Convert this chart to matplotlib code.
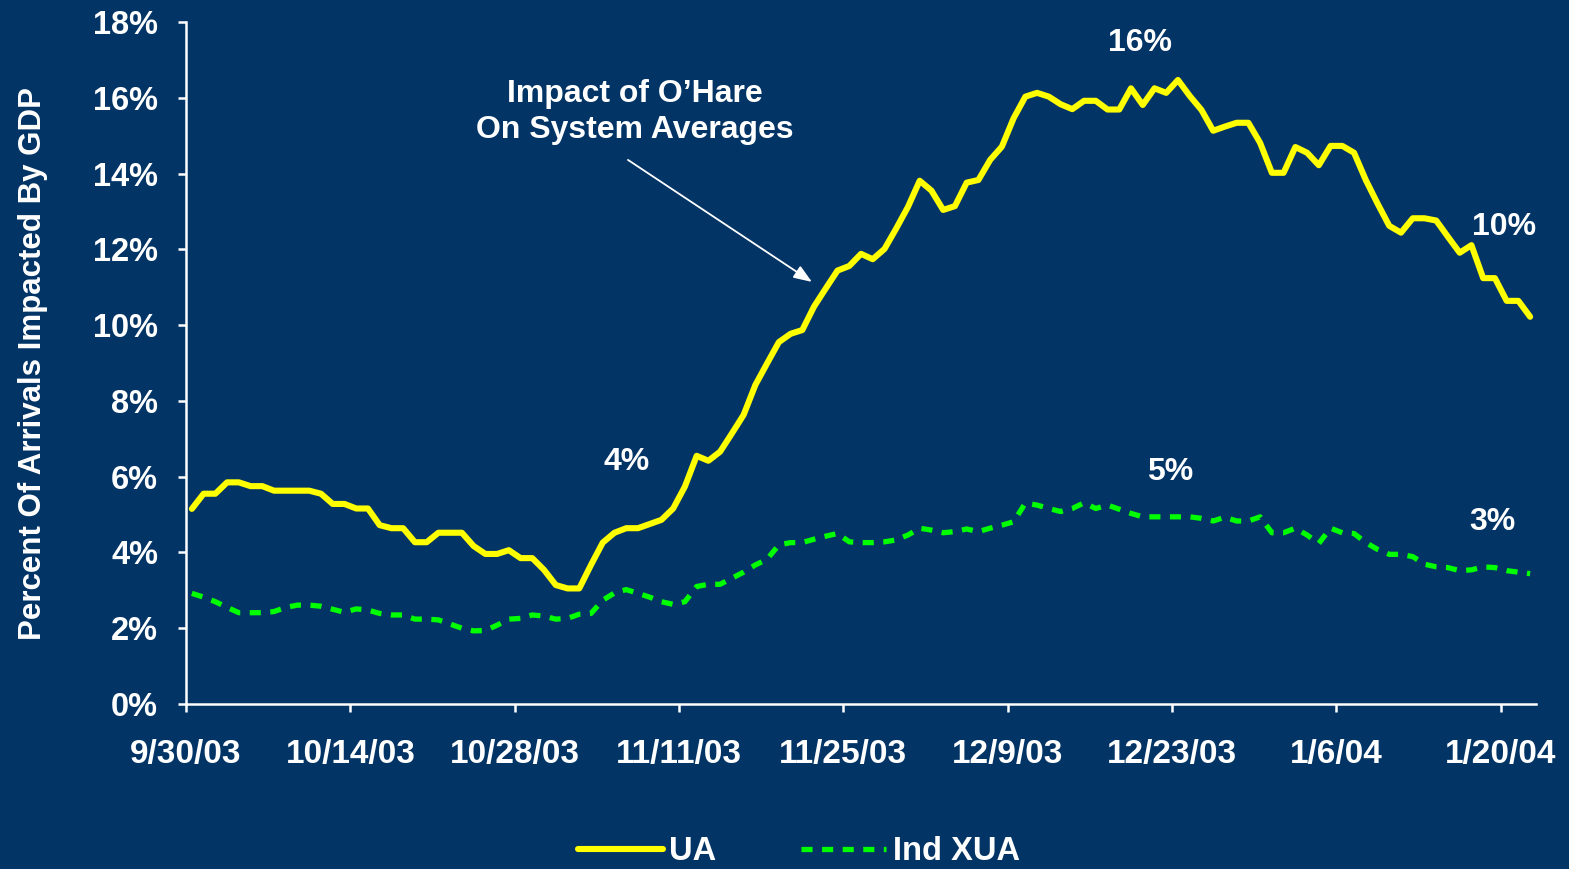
import matplotlib
matplotlib.use("Agg")
import matplotlib.pyplot as plt
import matplotlib.dates as mdates
import numpy as np
import pandas as pd

# ---- data ----
start_date = "2003-09-30"
n_days = 115
dates = pd.date_range(start_date, periods=n_days, freq="D")

ua = [5.15, 5.55, 5.55, 5.85, 5.85, 5.75, 5.75, 5.63, 5.63, 5.63,
      5.63, 5.55, 5.28, 5.28, 5.16, 5.16, 4.72, 4.64, 4.64, 4.27,
      4.27, 4.52, 4.52, 4.52, 4.17, 3.96, 3.96, 4.06, 3.85, 3.85,
      3.54, 3.14, 3.05, 3.05, 3.67, 4.26, 4.52, 4.64, 4.64, 4.75,
      4.86, 5.16, 5.74, 6.55, 6.42, 6.66, 7.14, 7.63, 8.42, 8.99,
      9.55, 9.77, 9.87, 10.49, 10.97, 11.44, 11.56, 11.88, 11.74, 12.01,
      12.55, 13.12, 13.81, 13.55, 13.04, 13.14, 13.76, 13.83, 14.36, 14.71,
      15.46, 16.03, 16.13, 16.03, 15.83, 15.70, 15.92, 15.92, 15.69, 15.69,
      16.25, 15.81, 16.25, 16.13, 16.47, 16.05, 15.68, 15.13, 15.24, 15.34,
      15.34, 14.81, 14.02, 14.02, 14.70, 14.55, 14.22, 14.73, 14.73, 14.55,
      13.83, 13.21, 12.62, 12.44, 12.82, 12.82, 12.76, 12.33, 11.91, 12.11,
      11.24, 11.24, 10.64, 10.64, 10.22]

ind_xua = [2.92, 2.82, 2.70, 2.55, 2.41, 2.41, 2.41, 2.44, 2.55, 2.61,
           2.61, 2.58, 2.50, 2.42, 2.51, 2.48, 2.39, 2.35, 2.35, 2.24,
           2.24, 2.22, 2.11, 2.00, 1.93, 1.94, 2.08, 2.24, 2.26, 2.35,
           2.32, 2.24, 2.26, 2.37, 2.39, 2.74, 2.93, 3.02, 2.92, 2.82,
           2.70, 2.63, 2.70, 3.10, 3.16, 3.16, 3.32, 3.48, 3.67, 3.82,
           4.20, 4.26, 4.26, 4.35, 4.43, 4.50, 4.28, 4.26, 4.26, 4.28,
           4.33, 4.46, 4.64, 4.59, 4.52, 4.55, 4.62, 4.55, 4.64, 4.72,
           4.81, 5.30, 5.25, 5.16, 5.08, 5.16, 5.31, 5.16, 5.25, 5.14,
           5.03, 4.94, 4.94, 4.94, 4.94, 4.94, 4.90, 4.83, 4.93, 4.83,
           4.83, 4.94, 4.52, 4.52, 4.64, 4.46, 4.24, 4.64, 4.52, 4.50,
           4.26, 4.08, 3.95, 3.95, 3.89, 3.69, 3.62, 3.60, 3.52, 3.54,
           3.62, 3.60, 3.52, 3.48, 3.44]

tick_every = 14
y_ticks = [0, 2, 4, 6, 8, 10, 12, 14, 16, 18]
series_names = ["UA", "Ind XUA"]
callout_texts = ["4%", "16%", "5%", "10%", "3%"]
callout_days = [37.5, 81.3, 83.8, 112.3, 111.3]      # days after start
callout_values = [6.39, 17.45, 6.12, 12.59, 4.80]
annotation_text = "Impact of O\u2019Hare\nOn System Averages"
annotation_text_pos = (38.2, 15.62)   # (day, value)
arrow_tail = (37.65, 14.36)
arrow_head = (53.32, 11.14)

# ---- style ----
BG = "#023466"
WHITE = "white"
FONT = ["Liberation Sans", "DejaVu Sans"]
plt.rcParams["font.family"] = FONT
plt.rcParams["font.weight"] = "bold"

fig = plt.figure(figsize=(15.69, 8.69), dpi=100, facecolor=BG)
ax = fig.add_axes([186 / 1569, 1 - 704 / 869, (1536 - 186) / 1569, (704 - 22) / 869])
ax.set_facecolor(BG)

x0 = mdates.date2num(dates[0])
xnum = mdates.date2num(dates) + 0.5
ax.plot(xnum, ua, color="#FFFF00", lw=4.4, solid_capstyle="round",
        solid_joinstyle="round", label=series_names[0], zorder=3)
ax.plot(xnum, ind_xua, color="#00FF00", lw=3.8, dashes=(2.1, 1.8),
        dash_capstyle="butt", label=series_names[1], zorder=3)

ax.set_xlim(x0, x0 + n_days)
ax.set_ylim(0, 18)

tick_dates = dates[::tick_every]
ax.set_xticks(mdates.date2num(tick_dates))
ax.set_xticklabels([f"{d.month}/{d.day}/{d.strftime('%y')}" for d in tick_dates])
ax.set_yticks(y_ticks)
ax.set_yticklabels([f"{v}%" for v in y_ticks])

for s in ["top", "right"]:
    ax.spines[s].set_visible(False)
for s in ["left", "bottom"]:
    ax.spines[s].set_color(WHITE)
    ax.spines[s].set_linewidth(1.8)

ax.tick_params(axis="both", colors=WHITE, width=1.8, length=6, direction="out")
ax.tick_params(axis="x", labelsize=24, pad=19)
ax.tick_params(axis="y", labelsize=23.5, pad=14)
for lab in ax.get_xticklabels() + ax.get_yticklabels():
    lab.set_fontweight("bold")
    lab.set_color(WHITE)

ax.set_ylabel("Percent Of Arrivals Impacted By GDP", color=WHITE, fontsize=22.5,
              fontweight="bold")
ax.yaxis.set_label_coords(-0.102, 0.50)

for txt, d, v in zip(callout_texts, callout_days, callout_values):
    ax.text(x0 + d, v, txt, color=WHITE, fontsize=23, fontweight="bold",
            ha="center", va="center")

ax.text(x0 + annotation_text_pos[0], annotation_text_pos[1], annotation_text,
        color=WHITE, fontsize=23, fontweight="bold", ha="center", va="center",
        linespacing=1.25)
ax.annotate("", xy=(x0 + arrow_head[0], arrow_head[1]),
            xytext=(x0 + arrow_tail[0], arrow_tail[1]),
            arrowprops=dict(arrowstyle="-|>,head_length=1.1,head_width=0.42",
                            color=WHITE, lw=1.3, shrinkA=0, shrinkB=0))

leg = fig.legend(loc="center", bbox_to_anchor=(0.509, 1 - 852 / 869), ncol=2,
                 frameon=False, fontsize=23.5, handlelength=2.6, handletextpad=0.2,
                 columnspacing=2.6)
for t in leg.get_texts():
    t.set_color(WHITE)
    t.set_fontweight("bold")

fig.savefig("out.png", dpi=100, facecolor=BG)
